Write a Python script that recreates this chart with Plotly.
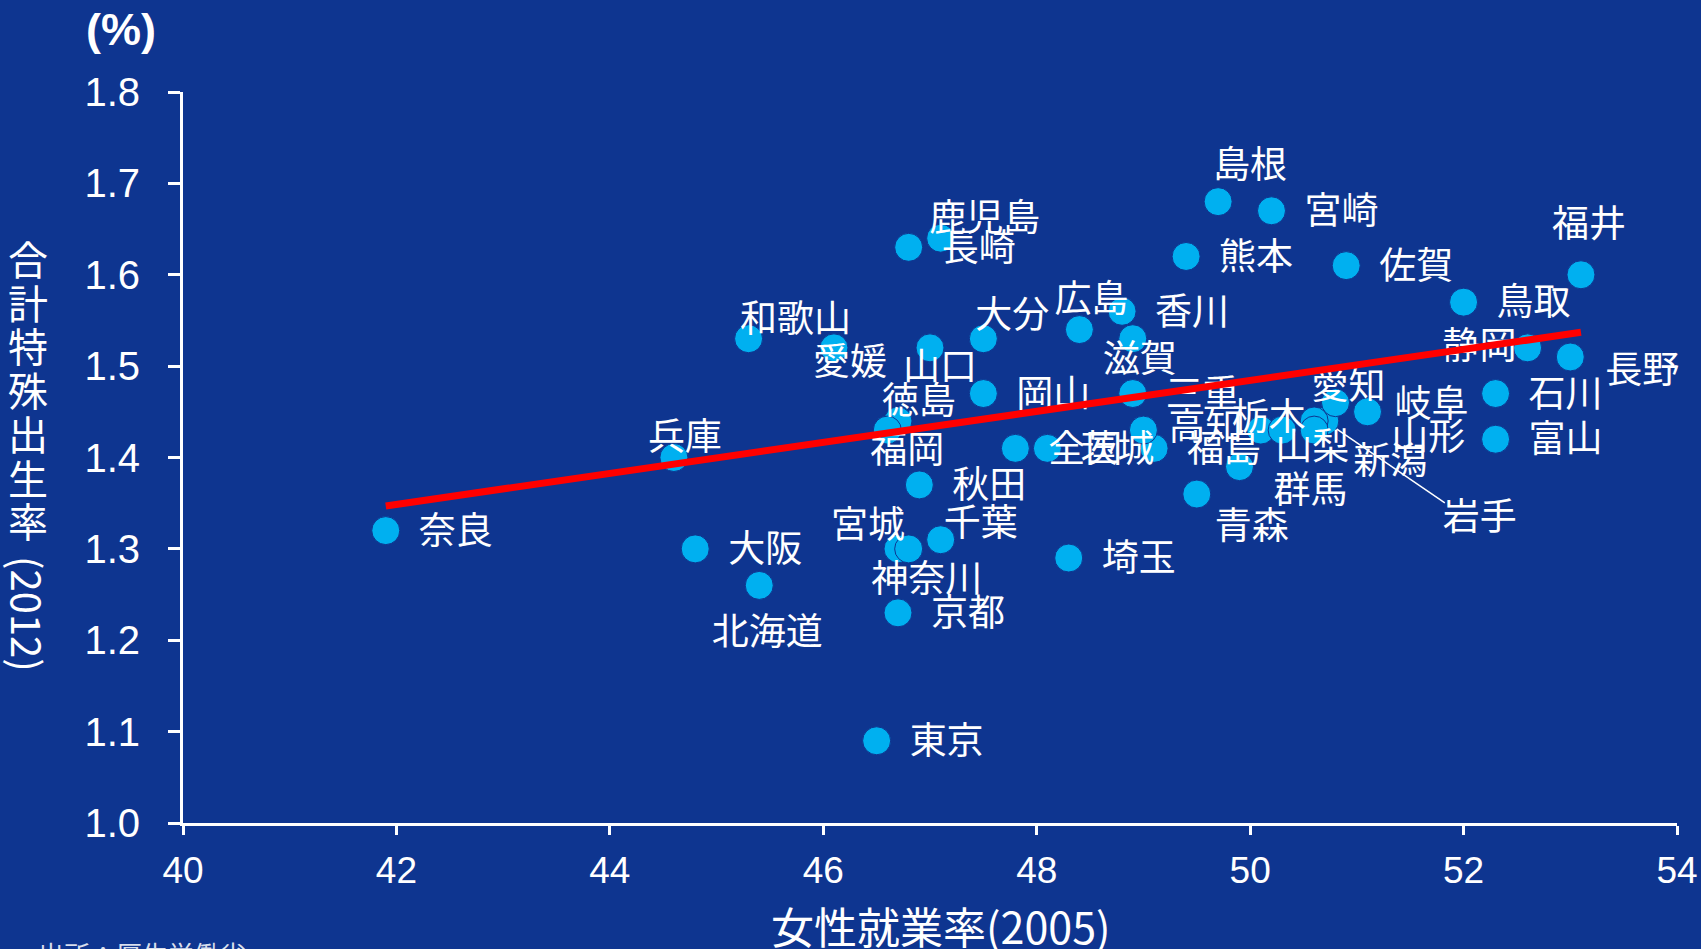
import plotly.graph_objects as go

# 都道府県別：女性就業率(2005) と 合計特殊出生率(2012)
names = ["北海道", "青森", "岩手", "宮城", "秋田", "山形", "福島", "茨城", "栃木", "群馬",
         "埼玉", "千葉", "東京", "神奈川", "新潟", "富山", "石川", "福井", "山梨", "長野",
         "岐阜", "静岡", "愛知", "三重", "滋賀", "京都", "大阪", "兵庫", "奈良", "和歌山",
         "鳥取", "島根", "岡山", "広島", "山口", "徳島", "香川", "愛媛", "高知", "福岡",
         "佐賀", "長崎", "熊本", "大分", "宮崎", "鹿児島", "全国"]
female_employment = [45.4, 49.5, 50.7, 46.7, 46.9, 50.6, 49.1, 48.1, 50.1, 49.9,
                     48.3, 47.1, 46.5, 46.8, 50.6, 52.3, 52.3, 53.1, 50.3, 53.0,
                     51.1, 52.6, 50.8, 48.9, 48.9, 46.7, 44.8, 44.6, 41.9, 45.3,
                     52.0, 49.7, 47.5, 48.4, 47.0, 46.7, 48.8, 46.1, 49.0, 46.6,
                     50.9, 46.8, 49.4, 47.5, 50.2, 47.1, 47.8]
fertility = [1.26, 1.36, 1.44, 1.30, 1.37, 1.44, 1.41, 1.41, 1.43, 1.39,
             1.29, 1.31, 1.09, 1.30, 1.43, 1.42, 1.47, 1.60, 1.43, 1.51,
             1.45, 1.52, 1.46, 1.47, 1.53, 1.23, 1.30, 1.40, 1.32, 1.53,
             1.57, 1.68, 1.47, 1.54, 1.52, 1.44, 1.56, 1.52, 1.43, 1.43,
             1.61, 1.63, 1.62, 1.53, 1.67, 1.64, 1.41]

# 近似直線の両端
trend_x = [41.9, 53.1]
trend_y = [1.347, 1.537]

x_ticks = [40, 42, 44, 46, 48, 50, 52, 54]
y_ticks = [1.0, 1.1, 1.2, 1.3, 1.4, 1.5, 1.6, 1.7, 1.8]

# ---- layout geometry ----
W, H = 1701, 949
ML, MR, MT, MB = 183, 24, 92, 126
X_RANGE = (40, 54)
Y_RANGE = (1.0, 1.8)
px_per_x = (W - ML - MR) / (X_RANGE[1] - X_RANGE[0])
px_per_y = (H - MT - MB) / (Y_RANGE[1] - Y_RANGE[0])

BG = "#0E3590"
DOT = "#00B0F0"
CJK = "Noto Sans CJK JP"

# label placement (screen px from the dot: right, down)
DEFAULT_OFFSET = (70, 0)
LABEL_BASELINE_FIX = 4
label_offsets = {
    "北海道": (8, 46), "青森": (55, 32), "宮城": (-30, -24), "山形": (114, 16),
    "栃木": (8, -13), "群馬": (71, 23), "千葉": (40, -17), "神奈川": (18, 30),
    "新潟": (76, 31), "福井": (8, -51), "山梨": (30, 17), "長野": (72, 13),
    "岐阜": (64, -8), "静岡": (-48, -2), "愛知": (13, -17), "滋賀": (7, 20),
    "兵庫": (11, -21), "和歌山": (47, -20), "島根": (32, -37), "広島": (12, -31),
    "山口": (10, 19), "徳島": (21, -20), "愛媛": (16, 14), "高知": (62, -3),
    "福岡": (20, 20), "大分": (29, -24), "鹿児島": (44, -20),
}
LEADER = {"岩手": (155, 96)}
LEADER_END = (120, 82)

label_x, label_y, label_text = [], [], []
for n, x, y in zip(names, female_employment, fertility):
    dx, dy = LEADER.get(n, label_offsets.get(n, DEFAULT_OFFSET))
    label_x.append(x + dx / px_per_x)
    label_y.append(y - (dy + LABEL_BASELINE_FIX) / px_per_y)
    label_text.append(n)

fig = go.Figure()

# leader line for 岩手
for n, (ex, ey) in zip(LEADER.keys(), [LEADER_END]):
    i = names.index(n)
    x0, y0 = female_employment[i], fertility[i]
    fig.add_trace(go.Scatter(
        x=[x0, x0 + ex / px_per_x], y=[y0, y0 - ey / px_per_y],
        mode="lines", line=dict(color="white", width=1.5),
        hoverinfo="skip", showlegend=False, cliponaxis=False))

fig.add_trace(go.Scatter(
    x=female_employment, y=fertility, mode="markers",
    marker=dict(size=28, color=DOT, line=dict(color=BG, width=1)),
    text=names, showlegend=False, cliponaxis=False))

fig.add_trace(go.Scatter(
    x=label_x, y=label_y, text=label_text, mode="text",
    textposition="middle center",
    textfont=dict(family=CJK, size=37, color="white"),
    hoverinfo="skip", showlegend=False, cliponaxis=False))

fig.add_trace(go.Scatter(
    x=trend_x, y=trend_y, mode="lines",
    line=dict(color="#FF0000", width=7),
    hoverinfo="skip", showlegend=False, cliponaxis=False))

axis_common = dict(showgrid=False, zeroline=False, showline=True,
                   linecolor="white", linewidth=3, ticks="outside",
                   tickcolor="white", tickwidth=3, automargin=False,
                   ticklabeloverflow="allow")

fig.update_xaxes(range=list(X_RANGE), tickvals=x_ticks, ticklen=9,
                 tickfont=dict(family="Liberation Sans", size=37, color="white"),
                 ticklabelstandoff=4, **axis_common)
fig.update_yaxes(range=list(Y_RANGE), tickvals=y_ticks, tickformat=".1f", ticklen=12,
                 tickfont=dict(family="Liberation Sans", size=40, color="white"),
                 ticklabelstandoff=20, **axis_common)

annotations = []
# y-axis title written vertically
y_title_chars = "合計特殊出生率"
for k, ch in enumerate(y_title_chars):
    py = 258 + 43.7 * k
    annotations.append(dict(text=ch, xref="paper", yref="paper", x=0, y=1,
                            xshift=28 - ML, yshift=MT - py, showarrow=False,
                            xanchor="center", yanchor="middle",
                            font=dict(family=CJK, size=40, color="white")))
annotations.append(dict(text="(2012)", xref="paper", yref="paper", x=0, y=1,
                        xshift=28 - ML, yshift=MT - 614, showarrow=False, textangle=90,
                        xanchor="center", yanchor="middle",
                        font=dict(family=CJK, size=40, color="white")))
annotations.append(dict(text="<b>(%)</b>", xref="paper", yref="paper", x=0, y=1,
                        xshift=121 - ML, yshift=MT - 29, showarrow=False,
                        xanchor="center", yanchor="middle",
                        font=dict(family="Liberation Sans", size=45, color="white")))
annotations.append(dict(text="女性就業率(2005)", xref="paper", yref="paper", x=0.5, y=0,
                        xshift=11, yshift=(H - MB) - 925, showarrow=False,
                        xanchor="center", yanchor="middle",
                        font=dict(family=CJK, size=43, color="white")))
annotations.append(dict(text="出所：厚生労働省", xref="paper", yref="paper", x=0, y=0,
                        xshift=36 - ML, yshift=(H - MB) - 933, showarrow=False,
                        xanchor="left", yanchor="top",
                        font=dict(family=CJK, size=26, color="rgba(255,255,255,0.85)")))

fig.update_layout(width=W, height=H, margin=dict(l=ML, r=MR, t=MT, b=MB),
                  paper_bgcolor=BG, plot_bgcolor=BG, annotations=annotations,
                  showlegend=False)

fig.write_html("out.html")
